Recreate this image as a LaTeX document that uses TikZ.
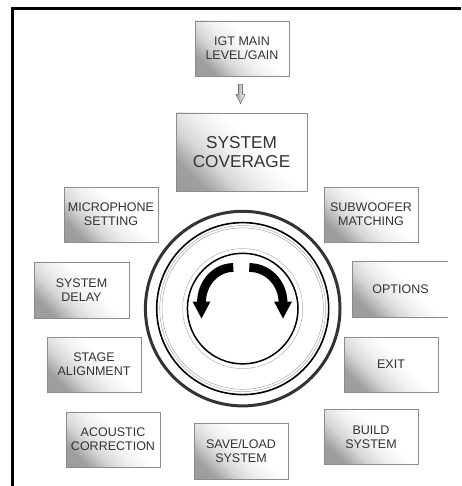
\documentclass[tikz,border=0pt]{standalone}
\usepackage{fontspec}
\setmainfont{Liberation Sans}
\usetikzlibrary{calc}
\pgfdeclarehorizontalshading{boxshade}{100bp}{color(0bp)=(black!40); color(25bp)=(black!38); color(36bp)=(black!16); color(46bp)=(black!6); color(58bp)=(white); color(100bp)=(white)}
\begin{document}
\begin{tikzpicture}[x=1pt,y=-1pt,
  boxline/.style={draw=black!45, line width=0.8pt},
  box/.style={boxline, shading=boxshade, shading angle=45, inner sep=0pt, align=center,
    font=\fontsize{12.5}{14}\selectfont, text=black!80, minimum width=94pt, minimum height=55pt},
  bigbox/.style={box, font=\fontsize{17.2}{19}\selectfont, minimum width=131pt, minimum height=78pt},
  ring/.style={line width=#1},
]
\useasboundingbox (0,0) rectangle (461,486);
% frame
\draw[line width=3pt, line join=miter] (12.5,486) -- (12.5,8.5) -- (461,8.5);

% boxes
\node[box] (igt) at (242,48.5) {IGT MAIN\\LEVEL/GAIN};
\node[bigbox] (cov) at (241.5,152) {SYSTEM\\COVERAGE};
\node[box] (mic) at (111,214.5) {MICROPHONE\\SETTING};
\node[box] (sub) at (371,214.5) {SUBWOOFER\\MATCHING};
\node[box, minimum width=95pt, minimum height=56pt] (delay) at (81.5,290) {SYSTEM\\DELAY};
\node[box, draw=none, minimum width=95pt] (opt) at (400.5,289.5) {OPTIONS};
\draw[boxline] (opt.north east) -- (opt.north west) -- (opt.south west) -- (opt.south east);
\node[box] (stage) at (94,364.5) {STAGE\\ALIGNMENT};
\node[box] (exit) at (391,364.5) {EXIT};
\node[box] (acou) at (113,439.5) {ACOUSTIC\\CORRECTION};
\node[box, minimum height=56pt] (save) at (241,451) {SAVE/LOAD\\SYSTEM};
\node[box] (build) at (371,437) {BUILD\\SYSTEM};

% block arrow igt -> cov
\draw[draw=black!55, line width=0.6pt, left color=black!40, right color=white]
  ($(igt.south)+(-3.5,8)$) -- ($(igt.south)+(0.5,8)$) -- ($(igt.south)+(0.5,18)$) -- ($(igt.south)+(3,18)$)
  -- ($(cov.north)+(-1,-9)$) -- ($(igt.south)+(-6,18)$) -- ($(igt.south)+(-3.5,18)$) -- cycle;

% knob
\coordinate (c) at (242.7,308.6);
\draw[ring=3pt, black!80] (c) circle[radius=97.3pt];
\draw[ring=1.6pt] (c) circle[radius=86pt];
\draw[ring=0.5pt, black!35] (c) circle[radius=83pt];
\draw[ring=0.5pt, black!35] (c) circle[radius=80.7pt];
\draw[ring=0.5pt, black!30] (c) circle[radius=60pt];
\draw[ring=1.5pt] (c) circle[radius=55.3pt];

% rotation arrows
\draw[line width=8.8pt] (233.3,267.5) .. controls (215.7,267.5) and (201.5,283.2) .. (201.5,302.5);
\fill (192.5,301.5) -- (210.5,301.5) -- (201.5,318.5) -- cycle;
\draw[line width=8.8pt] (249.3,267.5) .. controls (267.9,267.5) and (283,283.2) .. (283,302.5);
\fill (274,301.5) -- (292,301.5) -- (283,318.5) -- cycle;
\end{tikzpicture}
\end{document}
